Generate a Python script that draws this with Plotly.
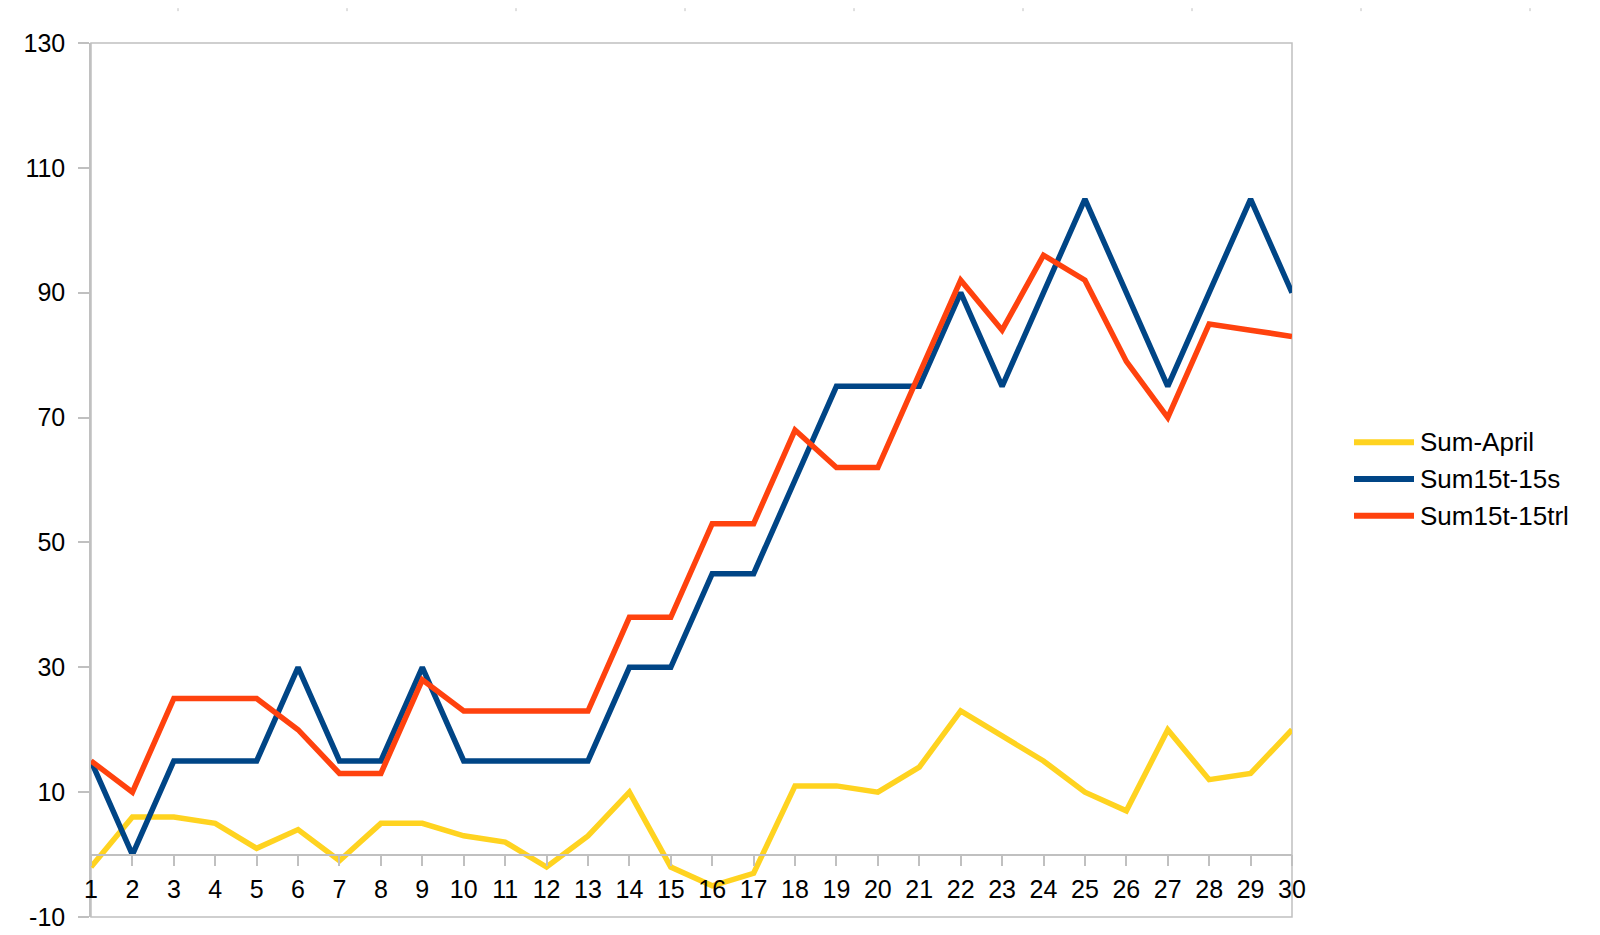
import plotly.graph_objects as go

# values
days = list(range(1, 31))
sum_april = [-2, 6, 6, 5, 1, 4, -1, 5, 5, 3, 2, -2, 3, 10, -2, -5, -3, 11, 11, 10,
             14, 23, 19, 15, 10, 7, 20, 12, 13, 20]
sum_15s = [15, 0, 15, 15, 15, 30, 15, 15, 30, 15, 15, 15, 15, 30, 30, 45, 45, 60, 75, 75,
           75, 90, 75, 90, 105, 90, 75, 90, 105, 90]
sum_15trl = [15, 10, 25, 25, 25, 20, 13, 13, 28, 23, 23, 23, 23, 38, 38, 53, 53, 68, 62, 62,
             77, 92, 84, 96, 92, 79, 70, 85, 84, 83]

names = ["Sum-April", "Sum15t-15s", "Sum15t-15trl"]
series = [sum_april, sum_15s, sum_15trl]
colors = ["#ffd320", "#004586", "#ff420e"]
y_ticks = [-10, 10, 30, 50, 70, 90, 110, 130]
y_labels = ["-10", "10", "30", "50", "70", "90", "110", "130"]

W, H = 1600, 935
L, R, T, B = 83, 1284, 35, 913
GRAY = "#c0c0c0"
FONT = "Liberation Sans, Arial, sans-serif"


def px_x(x):
    return (x - L) / (R - L)


def px_y(y):
    return (B - y) / (B - T)


fig = go.Figure()
for name, vals, col in zip(names, series, colors):
    fig.add_trace(go.Scatter(x=days, y=vals, name=name, mode="lines",
                             line=dict(color=col, width=5.5), showlegend=False))

shapes = [dict(type="rect", xref="paper", yref="paper", x0=0, x1=1, y0=0, y1=1,
               line=dict(color=GRAY, width=1.5), layer="below")]
annotations = []

# hand-drawn legend so the key lines are as long as in the original
for i, (name, col) in enumerate(zip(names, colors)):
    yy = px_y(436 + i * 37)
    shapes.append(dict(type="line", xref="paper", yref="paper",
                       x0=px_x(1346), x1=px_x(1406), y0=yy, y1=yy,
                       line=dict(color=col, width=6)))
    annotations.append(dict(xref="paper", yref="paper", x=px_x(1410), y=yy,
                            text=name, showarrow=False, xanchor="left", yanchor="middle",
                            font=dict(family=FONT, size=26, color="black")))

# faint spreadsheet cell marks along the top and right edges
for cx in range(170, W, 169):
    shapes.append(dict(type="line", xref="paper", yref="paper",
                       x0=px_x(cx), x1=px_x(cx), y0=px_y(0), y1=px_y(3),
                       line=dict(color=GRAY, width=1)))
for cy in range(29, H, 36):
    shapes.append(dict(type="line", xref="paper", yref="paper",
                       x0=px_x(1592), x1=px_x(W), y0=px_y(cy), y1=px_y(cy),
                       line=dict(color=GRAY, width=1)))

fig.update_layout(
    width=W, height=H,
    margin=dict(l=L, r=W - R, t=T, b=H - B),
    paper_bgcolor="white", plot_bgcolor="white",
    font=dict(family=FONT, size=25, color="black"),
    xaxis=dict(range=[1, 30], tickmode="linear", tick0=1, dtick=1,
               showgrid=False, zeroline=False, showline=True, linecolor=GRAY, linewidth=1.5,
               ticks="outside", ticklen=11, tickcolor=GRAY, tickwidth=1.5,
               anchor="free", position=10 / 140, ticklabelstandoff=2),
    yaxis=dict(range=[-10, 130], tickvals=y_ticks, ticktext=y_labels,
               showgrid=False, zeroline=False,
               showline=True, linecolor=GRAY, linewidth=1.5,
               ticks="outside", ticklen=11, tickcolor=GRAY, tickwidth=1.5,
               ticklabelstandoff=8),
    shapes=shapes,
    annotations=annotations,
)

fig.write_html("out.html")
